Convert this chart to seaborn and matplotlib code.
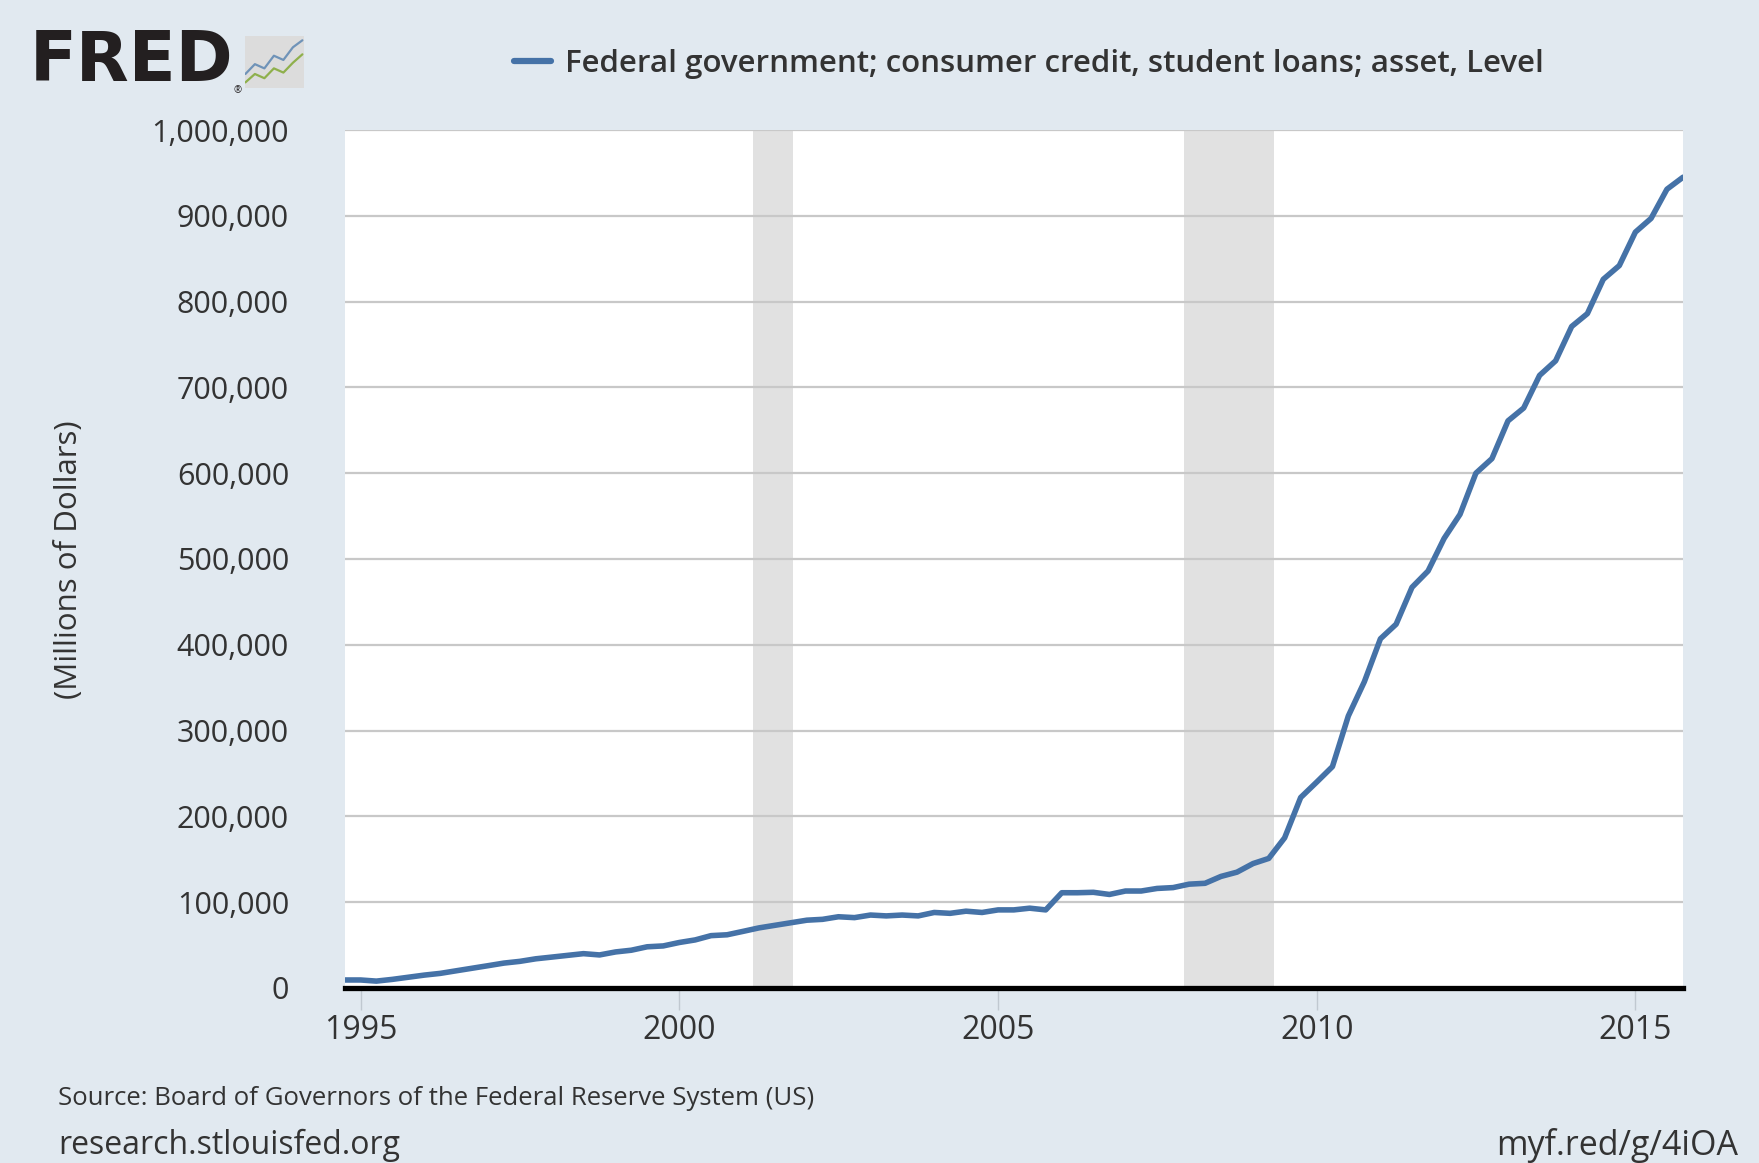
import pandas as pd
import matplotlib.pyplot as plt
import matplotlib.ticker as mticker
import seaborn as sns

# Данные: квартальные значения (млн долларов), 1994Q4 - 2015Q4
quarters = pd.period_range('1994Q4', '2015Q4', freq='Q').to_timestamp()
values = [
    9300,
    9300, 8000, 10000, 12500,
    15000, 17000, 20000, 23000,
    26000, 29000, 31000, 34000,
    36000, 38000, 40000, 38500,
    42000, 44000, 48000, 49000,
    53000, 56000, 61000, 62000,
    66000, 70000, 73000, 76000,
    79000, 80000, 83000, 82000,
    85000, 84000, 85000, 84000,
    88000, 87000, 89500, 88000,
    91000, 91000, 93000, 91000,
    111000, 111000, 111500, 109000,
    113000, 113000, 116000, 117000,
    121000, 122000, 130000, 135000,
    145000, 151000, 175000, 222000,
    240000, 258000, 317000, 357000,
    407000, 424000, 467000, 486000,
    524000, 552000, 600000, 617000,
    661000, 676000, 714000, 731000,
    771000, 786000, 826000, 842000,
    881000, 897000, 931000, 945000,
]
series_label = 'Federal government; consumer credit, student loans; asset, Level'

# Рецессии (NBER)
recessions = [('2001-03-01', '2001-10-15'), ('2007-12-01', '2009-05-01')]

y_ticks = [0, 100000, 200000, 300000, 400000, 500000, 600000, 700000, 800000, 900000, 1000000]
x_tick_years = [1995, 2000, 2005, 2010, 2015]

# Иконка логотипа
icon_x = [0, 1, 2, 3, 4, 5, 6]
icon_blue = [2.0, 3.4, 2.8, 4.6, 4.0, 5.8, 6.8]
icon_green = [0.8, 2.0, 1.4, 2.8, 2.2, 3.6, 4.8]

df = pd.DataFrame({'date': quarters, 'value': values})

sns.set_theme(style='white')
plt.rcParams['font.family'] = ['Open Sans', 'DejaVu Sans']

bg = '#e1e9f0'
text_color = '#333333'

fig = plt.figure(figsize=(17.59, 11.63), dpi=100)
fig.patch.set_facecolor(bg)

ax = fig.add_axes([0.1959, 0.1505, 0.7609, 0.7377])
ax.set_facecolor('white')

for start, end in recessions:
    ax.axvspan(pd.Timestamp(start), pd.Timestamp(end), color='#e1e1e1', lw=0, zorder=0)

sns.lineplot(data=df, x='date', y='value', ax=ax, color='#4572a7', lw=4.0,
             label=series_label, zorder=3)

ax.set_xlim(quarters[0], quarters[-1])
ax.set_ylim(0, 1000000)
ax.set_yticks(y_ticks)
ax.yaxis.set_major_formatter(mticker.FuncFormatter(lambda v, p: f'{v:,.0f}'))
ax.set_xticks([pd.Timestamp(f'{y}-01-01') for y in x_tick_years])
ax.set_xticklabels([str(y) for y in x_tick_years])

ax.yaxis.grid(True, color='#c8c8c8', lw=1.6)
ax.xaxis.grid(False)
for side in ['top', 'left', 'right']:
    ax.spines[side].set_visible(False)
ax.spines['bottom'].set_color('black')
ax.spines['bottom'].set_linewidth(3.8)
ax.spines['bottom'].set_zorder(4)

ax.tick_params(axis='y', length=0, pad=40, labelsize=22, labelcolor=text_color)
ax.tick_params(axis='x', length=16, width=1, color='#c0c8d0', direction='out',
               pad=3, labelsize=23, labelcolor=text_color, bottom=True)

ax.set_xlabel('')
ax.set_ylabel('')
fig.text(0.039, 0.519, '(Millions of Dollars)', rotation=90, ha='center', va='center',
         fontsize=22.5, color=text_color)

# Легенда
leg = ax.legend(loc='center left', bbox_to_anchor=(0.276, 0.945), bbox_transform=fig.transFigure,
                frameon=False, handlelength=1.2, handletextpad=0.45,
                prop={'size': 22.5, 'weight': 'semibold'})
for t in leg.get_texts():
    t.set_color(text_color)
for h in leg.get_lines():
    h.set_linewidth(4.5)

# Логотип FRED
fig.text(0.017, 0.9475, 'FRED', fontsize=49.5, fontweight='bold', color='#231f20',
         ha='left', va='center', family='DejaVu Sans')
fig.text(0.1352, 0.922, '®', fontsize=7, color='#231f20', ha='center', va='center')
iax = fig.add_axes([0.1395, 0.9243, 0.0335, 0.0447])
iax.set_facecolor('#dcdcdc')
iax.plot(icon_x, icon_blue, color='#6f93b8', lw=1.6)
iax.plot(icon_x, icon_green, color='#8fb04c', lw=1.6)
iax.set_xlim(0, 6.2)
iax.set_ylim(0, 7.4)
iax.set_xticks([])
iax.set_yticks([])
for s in iax.spines.values():
    s.set_visible(False)

# Подписи внизу
fig.text(0.033, 0.0555, 'Source: Board of Governors of the Federal Reserve System (US)',
         fontsize=18.5, color=text_color, ha='left', va='center')
fig.text(0.033, 0.0150, 'research.stlouisfed.org', fontsize=23, color=text_color,
         ha='left', va='center')
fig.text(0.988, 0.0150, 'myf.red/g/4iOA', fontsize=24.5, color=text_color,
         ha='right', va='center')

plt.savefig('out.png', dpi=100, facecolor=bg)
